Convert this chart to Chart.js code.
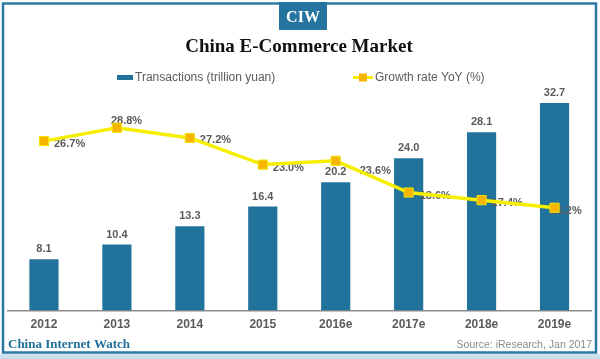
<!DOCTYPE html>
<html>
<head>
<meta charset="utf-8">
<script src="https://cdn.jsdelivr.net/npm/chart.js@4/dist/chart.umd.min.js"></script>
<style>
html,body{margin:0;padding:0;background:#fff;}
#wrap{width:600px;height:359px;position:relative;}
</style>
</head>
<body>
<div id="wrap"><canvas id="c" width="600" height="359"></canvas></div>
<script>
const categories = ['2012','2013','2014','2015','2016e','2017e','2018e','2019e'];
const transactions = [8.1, 10.4, 13.3, 16.4, 20.2, 24.0, 28.1, 32.7];
const growth = [26.7, 28.8, 27.2, 23.0, 23.6, 18.6, 17.4, 16.2];

const BAR = '#22739c';
const LINE = '#f7ef00';
const MARK = '#f7b500';
const TXT = '#5b5b5b';

// label placement for growth labels (relative to each point), kept out of the data
const growthLabelShift = [[10,3],[-6,-7],[10,2],[10,3],[24,10],[11,3],[10,3],[-4,3]];

const decor = {
  id: 'decor',
  beforeDraw(chart) {
    const ctx = chart.ctx;
    ctx.save();
    ctx.fillStyle = '#fff';
    ctx.fillRect(0, 0, chart.width, chart.height);
    ctx.restore();
  },
  afterDatasetDraw(chart, args) {
    if (args.index !== 0) return;
    const ctx = chart.ctx;
    ctx.save();
    ctx.font = 'bold 11px "Liberation Sans", Arial, sans-serif';
    ctx.fillStyle = TXT;
    ctx.textBaseline = 'middle';
    const bm = chart.getDatasetMeta(0);
    bm.data.forEach((el, i) => {
      ctx.textAlign = 'center';
      ctx.fillText(transactions[i].toFixed(1), el.x, el.y - 10);
    });
    const lm = chart.getDatasetMeta(1);
    lm.data.forEach((el, i) => {
      ctx.textAlign = 'left';
      const s = growthLabelShift[i];
      ctx.fillText(growth[i].toFixed(1) + '%', el.x + s[0], el.y + s[1]);
    });
    ctx.restore();
  },
  afterDraw(chart) {
    const ctx = chart.ctx;
    ctx.save();
    // bottom light strip
    const g = ctx.createLinearGradient(0, 353, 0, 359);
    g.addColorStop(0, '#d9e8f2');
    g.addColorStop(1, '#c4dcec');
    ctx.fillStyle = g;
    ctx.fillRect(0, 354, 600, 5);
    // frame
    ctx.strokeStyle = '#2b78a5';
    ctx.lineWidth = 2.5;
    ctx.strokeRect(3, 3.5, 593, 349);
    // CIW box
    ctx.fillStyle = '#2574a0';
    ctx.fillRect(279, 2, 48, 28);
    ctx.fillStyle = '#fff';
    ctx.font = 'bold 16px "Liberation Serif", "DejaVu Serif", serif';
    ctx.textAlign = 'center';
    ctx.textBaseline = 'middle';
    ctx.fillText('CIW', 303, 18);
    // title
    ctx.fillStyle = '#111';
    ctx.font = 'bold 19px "Liberation Serif", "DejaVu Serif", serif';
    ctx.fillText('China E-Commerce Market', 299, 47);
    // legend
    ctx.fillStyle = BAR;
    ctx.fillRect(117, 75, 16, 5);
    ctx.fillStyle = TXT;
    ctx.font = '12px "Liberation Sans", Arial, sans-serif';
    ctx.textAlign = 'left';
    ctx.fillText('Transactions (trillion yuan)', 135, 78);
    ctx.strokeStyle = LINE;
    ctx.lineWidth = 3;
    ctx.beginPath();
    ctx.moveTo(353, 77.5);
    ctx.lineTo(373, 77.5);
    ctx.stroke();
    ctx.fillStyle = MARK;
    ctx.fillRect(359, 73.5, 8, 8);
    ctx.fillStyle = TXT;
    ctx.fillText('Growth rate YoY (%)', 375, 78);
    // footer
    ctx.fillStyle = '#1f6f9b';
    ctx.font = 'bold 13px "Liberation Serif", "DejaVu Serif", serif';
    ctx.fillText('China Internet Watch', 8, 345);
    ctx.fillStyle = '#8a8a8a';
    ctx.font = '10.5px "Liberation Sans", Arial, sans-serif';
    ctx.textAlign = 'right';
    ctx.fillText('Source: iResearch, Jan 2017', 592, 345);
    ctx.restore();
  }
};

new Chart(document.getElementById('c'), {
  type: 'bar',
  data: {
    labels: categories,
    datasets: [
      {
        type: 'bar',
        label: 'Transactions (trillion yuan)',
        data: transactions,
        backgroundColor: BAR,
        borderWidth: 0,
        barPercentage: 0.4,
        categoryPercentage: 1.0,
        order: 1
      },
      {
        type: 'line',
        label: 'Growth rate YoY (%)',
        data: growth,
        borderColor: LINE,
        borderWidth: 3.5,
        tension: 0,
        pointStyle: 'rect',
        pointRadius: 6.5,
        pointBackgroundColor: MARK,
        pointBorderColor: '#f2e400',
        pointBorderWidth: 1,
        order: 0
      }
    ]
  },
  plugins: [decor],
  options: {
    responsive: false,
    animation: false,
    devicePixelRatio: 1,
    layout: { padding: { left: 3, right: 9, top: 90, bottom: 20 } },
    plugins: {
      legend: { display: false },
      title: { display: false },
      tooltip: { enabled: false }
    },
    scales: {
      x: {
        grid: { display: false, drawTicks: false },
        border: { display: true, color: '#8c8c8c', width: 1.5 },
        ticks: {
          padding: 7,
          color: TXT,
          font: { family: '"Liberation Sans", Arial, sans-serif', size: 12, weight: 'bold' }
        }
      },
      y: {
        display: false,
        min: 0,
        max: 34.75
      }
    }
  }
});
</script>
</body>
</html>
